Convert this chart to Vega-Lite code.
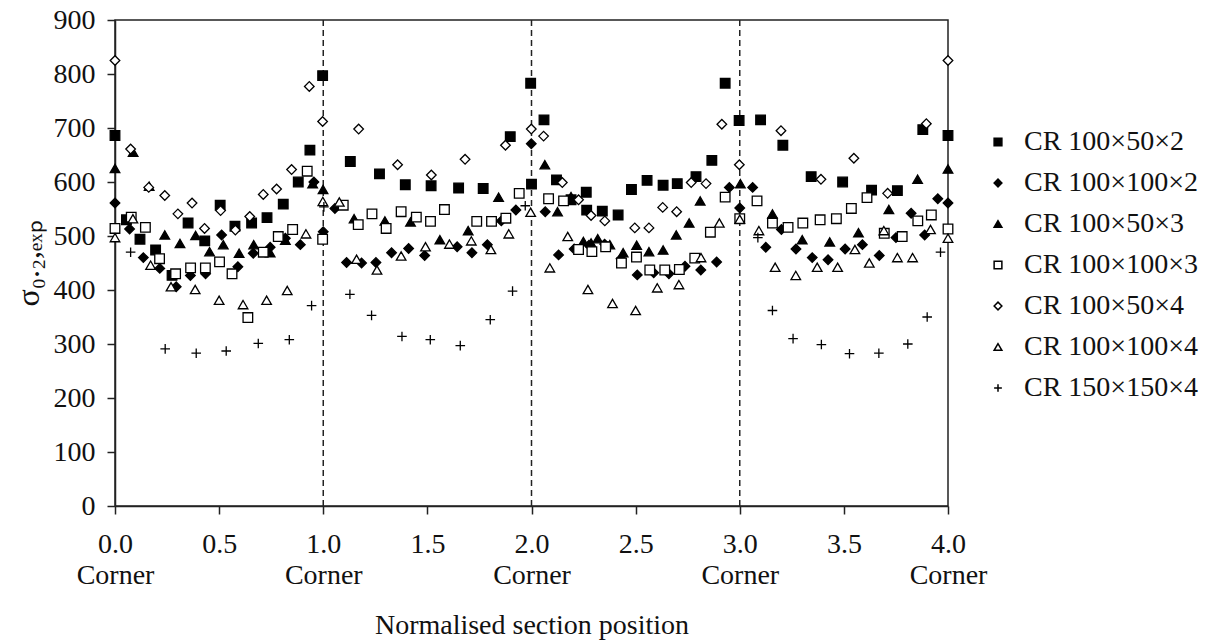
{
  "$schema": "https://vega.github.io/schema/vega-lite/v6.json",
  "width": 833,
  "height": 486,
  "autosize": {"type": "none"},
  "padding": {"left": 115, "top": 20, "right": 261, "bottom": 136},
  "background": "white",
  "config": {
    "font": "Liberation Serif",
    "view": {"stroke": "#222", "strokeWidth": 1.5},
    "axis": {
      "grid": false,
      "domainColor": "#222",
      "domainWidth": 1.5,
      "tickColor": "#222",
      "tickWidth": 1.5,
      "tickSize": 8,
      "labelFont": "Liberation Serif",
      "labelFontSize": 28,
      "labelColor": "#111",
      "titleFont": "Liberation Serif",
      "titleFontWeight": "normal",
      "titleColor": "#111"
    },
    "legend": {
      "labelFont": "Liberation Serif",
      "labelFontSize": 28,
      "labelColor": "#111"
    }
  },
  "datasets": {
    "corners": [{"pos": 1}, {"pos": 2}, {"pos": 3}],
    "measurements": [
      {"series": "CR 100×50×2", "pos": 0, "stress": 686},
      {"series": "CR 100×50×2", "pos": 0.055, "stress": 530},
      {"series": "CR 100×50×2", "pos": 0.12, "stress": 494},
      {"series": "CR 100×50×2", "pos": 0.195, "stress": 474},
      {"series": "CR 100×50×2", "pos": 0.274, "stress": 427},
      {"series": "CR 100×50×2", "pos": 0.351, "stress": 524},
      {"series": "CR 100×50×2", "pos": 0.431, "stress": 491},
      {"series": "CR 100×50×2", "pos": 0.505, "stress": 557},
      {"series": "CR 100×50×2", "pos": 0.576, "stress": 518},
      {"series": "CR 100×50×2", "pos": 0.656, "stress": 524},
      {"series": "CR 100×50×2", "pos": 0.73, "stress": 534},
      {"series": "CR 100×50×2", "pos": 0.808, "stress": 559},
      {"series": "CR 100×50×2", "pos": 0.88, "stress": 600},
      {"series": "CR 100×50×2", "pos": 0.936, "stress": 659},
      {"series": "CR 100×50×2", "pos": 0.997, "stress": 797},
      {"series": "CR 100×50×2", "pos": 1.13, "stress": 638},
      {"series": "CR 100×50×2", "pos": 1.27, "stress": 615},
      {"series": "CR 100×50×2", "pos": 1.394, "stress": 595},
      {"series": "CR 100×50×2", "pos": 1.518, "stress": 593},
      {"series": "CR 100×50×2", "pos": 1.65, "stress": 589},
      {"series": "CR 100×50×2", "pos": 1.768, "stress": 588},
      {"series": "CR 100×50×2", "pos": 1.898, "stress": 684},
      {"series": "CR 100×50×2", "pos": 1.996, "stress": 783},
      {"series": "CR 100×50×2", "pos": 2.0, "stress": 596},
      {"series": "CR 100×50×2", "pos": 2.06, "stress": 715},
      {"series": "CR 100×50×2", "pos": 2.12, "stress": 604},
      {"series": "CR 100×50×2", "pos": 2.19, "stress": 567},
      {"series": "CR 100×50×2", "pos": 2.263, "stress": 581},
      {"series": "CR 100×50×2", "pos": 2.265, "stress": 548},
      {"series": "CR 100×50×2", "pos": 2.34, "stress": 546},
      {"series": "CR 100×50×2", "pos": 2.416, "stress": 539},
      {"series": "CR 100×50×2", "pos": 2.48, "stress": 586},
      {"series": "CR 100×50×2", "pos": 2.555, "stress": 603},
      {"series": "CR 100×50×2", "pos": 2.632, "stress": 594},
      {"series": "CR 100×50×2", "pos": 2.7, "stress": 597},
      {"series": "CR 100×50×2", "pos": 2.79, "stress": 610},
      {"series": "CR 100×50×2", "pos": 2.866, "stress": 640},
      {"series": "CR 100×50×2", "pos": 2.93, "stress": 783},
      {"series": "CR 100×50×2", "pos": 2.997, "stress": 714},
      {"series": "CR 100×50×2", "pos": 3.1, "stress": 715},
      {"series": "CR 100×50×2", "pos": 3.207, "stress": 668},
      {"series": "CR 100×50×2", "pos": 3.343, "stress": 610},
      {"series": "CR 100×50×2", "pos": 3.494, "stress": 600},
      {"series": "CR 100×50×2", "pos": 3.633, "stress": 585},
      {"series": "CR 100×50×2", "pos": 3.757, "stress": 584},
      {"series": "CR 100×50×2", "pos": 3.879, "stress": 697},
      {"series": "CR 100×50×2", "pos": 4.0, "stress": 686},

      {"series": "CR 100×100×2", "pos": 0, "stress": 561},
      {"series": "CR 100×100×2", "pos": 0.07, "stress": 513},
      {"series": "CR 100×100×2", "pos": 0.136, "stress": 460},
      {"series": "CR 100×100×2", "pos": 0.215, "stress": 440},
      {"series": "CR 100×100×2", "pos": 0.294, "stress": 406},
      {"series": "CR 100×100×2", "pos": 0.362, "stress": 427},
      {"series": "CR 100×100×2", "pos": 0.435, "stress": 430},
      {"series": "CR 100×100×2", "pos": 0.512, "stress": 502},
      {"series": "CR 100×100×2", "pos": 0.59, "stress": 443},
      {"series": "CR 100×100×2", "pos": 0.664, "stress": 468},
      {"series": "CR 100×100×2", "pos": 0.745, "stress": 479},
      {"series": "CR 100×100×2", "pos": 0.818, "stress": 496},
      {"series": "CR 100×100×2", "pos": 0.89, "stress": 484},
      {"series": "CR 100×100×2", "pos": 0.955, "stress": 600},
      {"series": "CR 100×100×2", "pos": 1.0, "stress": 508},
      {"series": "CR 100×100×2", "pos": 1.056, "stress": 551},
      {"series": "CR 100×100×2", "pos": 1.112, "stress": 451},
      {"series": "CR 100×100×2", "pos": 1.184, "stress": 450},
      {"series": "CR 100×100×2", "pos": 1.253, "stress": 451},
      {"series": "CR 100×100×2", "pos": 1.328, "stress": 469},
      {"series": "CR 100×100×2", "pos": 1.41, "stress": 477},
      {"series": "CR 100×100×2", "pos": 1.487, "stress": 464},
      {"series": "CR 100×100×2", "pos": 1.643, "stress": 480},
      {"series": "CR 100×100×2", "pos": 1.714, "stress": 469},
      {"series": "CR 100×100×2", "pos": 1.788, "stress": 484},
      {"series": "CR 100×100×2", "pos": 1.855, "stress": 528},
      {"series": "CR 100×100×2", "pos": 1.925, "stress": 548},
      {"series": "CR 100×100×2", "pos": 1.999, "stress": 671},
      {"series": "CR 100×100×2", "pos": 2.066, "stress": 545},
      {"series": "CR 100×100×2", "pos": 2.13, "stress": 465},
      {"series": "CR 100×100×2", "pos": 2.205, "stress": 476},
      {"series": "CR 100×100×2", "pos": 2.276, "stress": 483},
      {"series": "CR 100×100×2", "pos": 2.351, "stress": 485},
      {"series": "CR 100×100×2", "pos": 2.43, "stress": 458},
      {"series": "CR 100×100×2", "pos": 2.508, "stress": 428},
      {"series": "CR 100×100×2", "pos": 2.587, "stress": 432},
      {"series": "CR 100×100×2", "pos": 2.66, "stress": 430},
      {"series": "CR 100×100×2", "pos": 2.737, "stress": 444},
      {"series": "CR 100×100×2", "pos": 2.813, "stress": 437},
      {"series": "CR 100×100×2", "pos": 2.889, "stress": 452},
      {"series": "CR 100×100×2", "pos": 2.95, "stress": 590},
      {"series": "CR 100×100×2", "pos": 3.0, "stress": 552},
      {"series": "CR 100×100×2", "pos": 3.062, "stress": 590},
      {"series": "CR 100×100×2", "pos": 3.125, "stress": 479},
      {"series": "CR 100×100×2", "pos": 3.2, "stress": 512},
      {"series": "CR 100×100×2", "pos": 3.27, "stress": 476},
      {"series": "CR 100×100×2", "pos": 3.348, "stress": 460},
      {"series": "CR 100×100×2", "pos": 3.424, "stress": 456},
      {"series": "CR 100×100×2", "pos": 3.506, "stress": 476},
      {"series": "CR 100×100×2", "pos": 3.589, "stress": 484},
      {"series": "CR 100×100×2", "pos": 3.67, "stress": 464},
      {"series": "CR 100×100×2", "pos": 3.75, "stress": 497},
      {"series": "CR 100×100×2", "pos": 3.823, "stress": 542},
      {"series": "CR 100×100×2", "pos": 3.888, "stress": 502},
      {"series": "CR 100×100×2", "pos": 3.951, "stress": 569},
      {"series": "CR 100×100×2", "pos": 4.0, "stress": 561},

      {"series": "CR 100×50×3", "pos": 0, "stress": 625},
      {"series": "CR 100×50×3", "pos": 0.087, "stress": 655},
      {"series": "CR 100×50×3", "pos": 0.164, "stress": 592},
      {"series": "CR 100×50×3", "pos": 0.239, "stress": 502},
      {"series": "CR 100×50×3", "pos": 0.312, "stress": 486},
      {"series": "CR 100×50×3", "pos": 0.387, "stress": 501},
      {"series": "CR 100×50×3", "pos": 0.454, "stress": 471},
      {"series": "CR 100×50×3", "pos": 0.52, "stress": 484},
      {"series": "CR 100×50×3", "pos": 0.596, "stress": 468},
      {"series": "CR 100×50×3", "pos": 0.666, "stress": 484},
      {"series": "CR 100×50×3", "pos": 0.745, "stress": 469},
      {"series": "CR 100×50×3", "pos": 0.818, "stress": 492},
      {"series": "CR 100×50×3", "pos": 0.949, "stress": 597},
      {"series": "CR 100×50×3", "pos": 0.999, "stress": 586},
      {"series": "CR 100×50×3", "pos": 1.148, "stress": 532},
      {"series": "CR 100×50×3", "pos": 1.296, "stress": 528},
      {"series": "CR 100×50×3", "pos": 1.419, "stress": 526},
      {"series": "CR 100×50×3", "pos": 1.56, "stress": 493},
      {"series": "CR 100×50×3", "pos": 1.696, "stress": 510},
      {"series": "CR 100×50×3", "pos": 1.842, "stress": 572},
      {"series": "CR 100×50×3", "pos": 2.064, "stress": 632},
      {"series": "CR 100×50×3", "pos": 2.125, "stress": 545},
      {"series": "CR 100×50×3", "pos": 2.19, "stress": 573},
      {"series": "CR 100×50×3", "pos": 2.249, "stress": 490},
      {"series": "CR 100×50×3", "pos": 2.286, "stress": 487},
      {"series": "CR 100×50×3", "pos": 2.318, "stress": 495},
      {"series": "CR 100×50×3", "pos": 2.376, "stress": 484},
      {"series": "CR 100×50×3", "pos": 2.44, "stress": 469},
      {"series": "CR 100×50×3", "pos": 2.505, "stress": 483},
      {"series": "CR 100×50×3", "pos": 2.564, "stress": 471},
      {"series": "CR 100×50×3", "pos": 2.632, "stress": 474},
      {"series": "CR 100×50×3", "pos": 2.695, "stress": 502},
      {"series": "CR 100×50×3", "pos": 2.757, "stress": 524},
      {"series": "CR 100×50×3", "pos": 2.81, "stress": 565},
      {"series": "CR 100×50×3", "pos": 3.003, "stress": 597},
      {"series": "CR 100×50×3", "pos": 3.157, "stress": 541},
      {"series": "CR 100×50×3", "pos": 3.3, "stress": 493},
      {"series": "CR 100×50×3", "pos": 3.432, "stress": 489},
      {"series": "CR 100×50×3", "pos": 3.57, "stress": 506},
      {"series": "CR 100×50×3", "pos": 3.716, "stress": 549},
      {"series": "CR 100×50×3", "pos": 3.854, "stress": 605},
      {"series": "CR 100×50×3", "pos": 4.0, "stress": 624},

      {"series": "CR 100×100×3", "pos": 0, "stress": 514},
      {"series": "CR 100×100×3", "pos": 0.078, "stress": 535},
      {"series": "CR 100×100×3", "pos": 0.146, "stress": 516},
      {"series": "CR 100×100×3", "pos": 0.214, "stress": 458},
      {"series": "CR 100×100×3", "pos": 0.291, "stress": 430},
      {"series": "CR 100×100×3", "pos": 0.363, "stress": 441},
      {"series": "CR 100×100×3", "pos": 0.434, "stress": 441},
      {"series": "CR 100×100×3", "pos": 0.502, "stress": 452},
      {"series": "CR 100×100×3", "pos": 0.562, "stress": 430},
      {"series": "CR 100×100×3", "pos": 0.638, "stress": 349},
      {"series": "CR 100×100×3", "pos": 0.712, "stress": 470},
      {"series": "CR 100×100×3", "pos": 0.784, "stress": 499},
      {"series": "CR 100×100×3", "pos": 0.853, "stress": 512},
      {"series": "CR 100×100×3", "pos": 0.923, "stress": 620},
      {"series": "CR 100×100×3", "pos": 0.997, "stress": 494},
      {"series": "CR 100×100×3", "pos": 1.096, "stress": 557},
      {"series": "CR 100×100×3", "pos": 1.168, "stress": 521},
      {"series": "CR 100×100×3", "pos": 1.234, "stress": 541},
      {"series": "CR 100×100×3", "pos": 1.302, "stress": 514},
      {"series": "CR 100×100×3", "pos": 1.374, "stress": 545},
      {"series": "CR 100×100×3", "pos": 1.447, "stress": 535},
      {"series": "CR 100×100×3", "pos": 1.515, "stress": 527},
      {"series": "CR 100×100×3", "pos": 1.582, "stress": 549},
      {"series": "CR 100×100×3", "pos": 1.737, "stress": 527},
      {"series": "CR 100×100×3", "pos": 1.808, "stress": 527},
      {"series": "CR 100×100×3", "pos": 1.877, "stress": 533},
      {"series": "CR 100×100×3", "pos": 1.941, "stress": 579},
      {"series": "CR 100×100×3", "pos": 2.082, "stress": 569},
      {"series": "CR 100×100×3", "pos": 2.154, "stress": 565},
      {"series": "CR 100×100×3", "pos": 2.226, "stress": 475},
      {"series": "CR 100×100×3", "pos": 2.29, "stress": 471},
      {"series": "CR 100×100×3", "pos": 2.356, "stress": 480},
      {"series": "CR 100×100×3", "pos": 2.432, "stress": 450},
      {"series": "CR 100×100×3", "pos": 2.504, "stress": 461},
      {"series": "CR 100×100×3", "pos": 2.568, "stress": 437},
      {"series": "CR 100×100×3", "pos": 2.64, "stress": 437},
      {"series": "CR 100×100×3", "pos": 2.71, "stress": 438},
      {"series": "CR 100×100×3", "pos": 2.784, "stress": 459},
      {"series": "CR 100×100×3", "pos": 2.859, "stress": 507},
      {"series": "CR 100×100×3", "pos": 2.93, "stress": 572},
      {"series": "CR 100×100×3", "pos": 3.0, "stress": 532},
      {"series": "CR 100×100×3", "pos": 3.083, "stress": 565},
      {"series": "CR 100×100×3", "pos": 3.157, "stress": 524},
      {"series": "CR 100×100×3", "pos": 3.232, "stress": 516},
      {"series": "CR 100×100×3", "pos": 3.303, "stress": 524},
      {"series": "CR 100×100×3", "pos": 3.386, "stress": 530},
      {"series": "CR 100×100×3", "pos": 3.464, "stress": 532},
      {"series": "CR 100×100×3", "pos": 3.536, "stress": 551},
      {"series": "CR 100×100×3", "pos": 3.611, "stress": 571},
      {"series": "CR 100×100×3", "pos": 3.694, "stress": 505},
      {"series": "CR 100×100×3", "pos": 3.78, "stress": 499},
      {"series": "CR 100×100×3", "pos": 3.855, "stress": 528},
      {"series": "CR 100×100×3", "pos": 3.92, "stress": 539},
      {"series": "CR 100×100×3", "pos": 4.0, "stress": 513},

      {"series": "CR 100×50×4", "pos": 0, "stress": 825},
      {"series": "CR 100×50×4", "pos": 0.075, "stress": 661},
      {"series": "CR 100×50×4", "pos": 0.162, "stress": 590},
      {"series": "CR 100×50×4", "pos": 0.239, "stress": 575},
      {"series": "CR 100×50×4", "pos": 0.302, "stress": 541},
      {"series": "CR 100×50×4", "pos": 0.37, "stress": 561},
      {"series": "CR 100×50×4", "pos": 0.43, "stress": 514},
      {"series": "CR 100×50×4", "pos": 0.507, "stress": 547},
      {"series": "CR 100×50×4", "pos": 0.578, "stress": 511},
      {"series": "CR 100×50×4", "pos": 0.647, "stress": 536},
      {"series": "CR 100×50×4", "pos": 0.712, "stress": 577},
      {"series": "CR 100×50×4", "pos": 0.776, "stress": 587},
      {"series": "CR 100×50×4", "pos": 0.848, "stress": 623},
      {"series": "CR 100×50×4", "pos": 0.933, "stress": 777},
      {"series": "CR 100×50×4", "pos": 0.997, "stress": 712},
      {"series": "CR 100×50×4", "pos": 1.17, "stress": 698},
      {"series": "CR 100×50×4", "pos": 1.357, "stress": 632},
      {"series": "CR 100×50×4", "pos": 1.519, "stress": 613},
      {"series": "CR 100×50×4", "pos": 1.681, "stress": 642},
      {"series": "CR 100×50×4", "pos": 1.875, "stress": 668},
      {"series": "CR 100×50×4", "pos": 1.999, "stress": 698},
      {"series": "CR 100×50×4", "pos": 2.058, "stress": 685},
      {"series": "CR 100×50×4", "pos": 2.148, "stress": 599},
      {"series": "CR 100×50×4", "pos": 2.226, "stress": 567},
      {"series": "CR 100×50×4", "pos": 2.286, "stress": 538},
      {"series": "CR 100×50×4", "pos": 2.352, "stress": 528},
      {"series": "CR 100×50×4", "pos": 2.496, "stress": 515},
      {"series": "CR 100×50×4", "pos": 2.564, "stress": 515},
      {"series": "CR 100×50×4", "pos": 2.63, "stress": 553},
      {"series": "CR 100×50×4", "pos": 2.697, "stress": 545},
      {"series": "CR 100×50×4", "pos": 2.767, "stress": 599},
      {"series": "CR 100×50×4", "pos": 2.838, "stress": 597},
      {"series": "CR 100×50×4", "pos": 2.914, "stress": 707},
      {"series": "CR 100×50×4", "pos": 2.998, "stress": 632},
      {"series": "CR 100×50×4", "pos": 3.198, "stress": 695},
      {"series": "CR 100×50×4", "pos": 3.39, "stress": 605},
      {"series": "CR 100×50×4", "pos": 3.548, "stress": 644},
      {"series": "CR 100×50×4", "pos": 3.71, "stress": 579},
      {"series": "CR 100×50×4", "pos": 3.896, "stress": 708},
      {"series": "CR 100×50×4", "pos": 4.0, "stress": 825},

      {"series": "CR 100×100×4", "pos": 0, "stress": 497},
      {"series": "CR 100×100×4", "pos": 0.086, "stress": 532},
      {"series": "CR 100×100×4", "pos": 0.171, "stress": 446},
      {"series": "CR 100×100×4", "pos": 0.269, "stress": 406},
      {"series": "CR 100×100×4", "pos": 0.385, "stress": 401},
      {"series": "CR 100×100×4", "pos": 0.5, "stress": 381},
      {"series": "CR 100×100×4", "pos": 0.615, "stress": 373},
      {"series": "CR 100×100×4", "pos": 0.728, "stress": 381},
      {"series": "CR 100×100×4", "pos": 0.827, "stress": 399},
      {"series": "CR 100×100×4", "pos": 0.917, "stress": 504},
      {"series": "CR 100×100×4", "pos": 0.998, "stress": 564},
      {"series": "CR 100×100×4", "pos": 1.077, "stress": 563},
      {"series": "CR 100×100×4", "pos": 1.16, "stress": 457},
      {"series": "CR 100×100×4", "pos": 1.258, "stress": 437},
      {"series": "CR 100×100×4", "pos": 1.374, "stress": 463},
      {"series": "CR 100×100×4", "pos": 1.491, "stress": 480},
      {"series": "CR 100×100×4", "pos": 1.606, "stress": 485},
      {"series": "CR 100×100×4", "pos": 1.711, "stress": 491},
      {"series": "CR 100×100×4", "pos": 1.805, "stress": 475},
      {"series": "CR 100×100×4", "pos": 1.891, "stress": 504},
      {"series": "CR 100×100×4", "pos": 1.996, "stress": 544},
      {"series": "CR 100×100×4", "pos": 2.088, "stress": 441},
      {"series": "CR 100×100×4", "pos": 2.174, "stress": 499},
      {"series": "CR 100×100×4", "pos": 2.271, "stress": 401},
      {"series": "CR 100×100×4", "pos": 2.389, "stress": 375},
      {"series": "CR 100×100×4", "pos": 2.5, "stress": 362},
      {"series": "CR 100×100×4", "pos": 2.604, "stress": 404},
      {"series": "CR 100×100×4", "pos": 2.708, "stress": 410},
      {"series": "CR 100×100×4", "pos": 2.814, "stress": 460},
      {"series": "CR 100×100×4", "pos": 2.902, "stress": 524},
      {"series": "CR 100×100×4", "pos": 3.0, "stress": 531},
      {"series": "CR 100×100×4", "pos": 3.092, "stress": 510},
      {"series": "CR 100×100×4", "pos": 3.17, "stress": 442},
      {"series": "CR 100×100×4", "pos": 3.269, "stress": 427},
      {"series": "CR 100×100×4", "pos": 3.372, "stress": 442},
      {"series": "CR 100×100×4", "pos": 3.47, "stress": 442},
      {"series": "CR 100×100×4", "pos": 3.553, "stress": 475},
      {"series": "CR 100×100×4", "pos": 3.622, "stress": 450},
      {"series": "CR 100×100×4", "pos": 3.692, "stress": 510},
      {"series": "CR 100×100×4", "pos": 3.757, "stress": 460},
      {"series": "CR 100×100×4", "pos": 3.83, "stress": 460},
      {"series": "CR 100×100×4", "pos": 3.916, "stress": 512},
      {"series": "CR 100×100×4", "pos": 4.0, "stress": 496},

      {"series": "CR 150×150×4", "pos": 0.075, "stress": 470},
      {"series": "CR 150×150×4", "pos": 0.241, "stress": 291},
      {"series": "CR 150×150×4", "pos": 0.39, "stress": 283},
      {"series": "CR 150×150×4", "pos": 0.534, "stress": 287},
      {"series": "CR 150×150×4", "pos": 0.688, "stress": 301},
      {"series": "CR 150×150×4", "pos": 0.837, "stress": 308},
      {"series": "CR 150×150×4", "pos": 0.944, "stress": 371},
      {"series": "CR 150×150×4", "pos": 1.003, "stress": 554},
      {"series": "CR 150×150×4", "pos": 1.128, "stress": 392},
      {"series": "CR 150×150×4", "pos": 1.232, "stress": 353},
      {"series": "CR 150×150×4", "pos": 1.378, "stress": 314},
      {"series": "CR 150×150×4", "pos": 1.514, "stress": 308},
      {"series": "CR 150×150×4", "pos": 1.658, "stress": 297},
      {"series": "CR 150×150×4", "pos": 1.802, "stress": 345},
      {"series": "CR 150×150×4", "pos": 1.909, "stress": 398},
      {"series": "CR 150×150×4", "pos": 1.97, "stress": 556},
      {"series": "CR 150×150×4", "pos": 3.087, "stress": 497},
      {"series": "CR 150×150×4", "pos": 3.157, "stress": 362},
      {"series": "CR 150×150×4", "pos": 3.256, "stress": 310},
      {"series": "CR 150×150×4", "pos": 3.392, "stress": 299},
      {"series": "CR 150×150×4", "pos": 3.527, "stress": 282},
      {"series": "CR 150×150×4", "pos": 3.668, "stress": 283},
      {"series": "CR 150×150×4", "pos": 3.807, "stress": 300},
      {"series": "CR 150×150×4", "pos": 3.9, "stress": 350},
      {"series": "CR 150×150×4", "pos": 3.964, "stress": 470}
    ]
  },
  "encoding": {
    "x": {
      "field": "pos",
      "type": "quantitative",
      "scale": {"domain": [0, 4], "nice": false, "zero": false},
      "axis": {
        "title": "Normalised section position",
        "titleFontSize": 28,
        "titlePadding": 22,
        "values": [0, 0.5, 1, 1.5, 2, 2.5, 3, 3.5, 4],
        "labelExpr": "datum.value % 1 === 0 ? [format(datum.value, '.1f'), 'Corner'] : format(datum.value, '.1f')",
        "labelBaseline": "top",
        "labelPadding": 16,
        "labelLineHeight": 31,
        "labelFlush": false,
        "labelOverlap": false
      }
    }
  },
  "layer": [
    {
      "data": {"name": "corners"},
      "mark": {"type": "rule", "strokeDash": [6, 4], "color": "#222", "strokeWidth": 1.5}
    },
    {
      "data": {"name": "measurements"},
      "mark": {"type": "point", "filled": true, "stroke": "black", "strokeWidth": 1.3, "opacity": 1},
      "encoding": {
        "y": {
          "field": "stress",
          "type": "quantitative",
          "scale": {"domain": [0, 900], "nice": false},
          "axis": {
            "title": "σ₀.₂,ₑₓₚ",
            "titleFontSize": 32,
            "titlePadding": 8,
            "values": [0, 100, 200, 300, 400, 500, 600, 700, 800, 900],
            "labelPadding": 12
          }
        },
        "shape": {
          "field": "series",
          "type": "nominal",
          "scale": {
            "domain": ["CR 100×50×2", "CR 100×100×2", "CR 100×50×3", "CR 100×100×3", "CR 100×50×4", "CR 100×100×4", "CR 150×150×4"],
            "range": ["square", "diamond", "triangle-up", "square", "diamond", "triangle-up", "M-1,0H1M0,-1V1"]
          },
          "legend": {
            "title": null,
            "orient": "none",
            "legendX": 869,
            "legendY": 108,
            "padding": 0,
            "rowPadding": 13,
            "symbolSize": 60,
            "labelOffset": 12,
            "labelLimit": 300,
            "encode": {
              "symbols": {
                "update": {
                  "stroke": {"value": "black"},
                  "strokeWidth": {"value": 1.3}
                }
              }
            }
          }
        },
        "fill": {
          "field": "series",
          "type": "nominal",
          "scale": {
            "domain": ["CR 100×50×2", "CR 100×100×2", "CR 100×50×3", "CR 100×100×3", "CR 100×50×4", "CR 100×100×4", "CR 150×150×4"],
            "range": ["black", "black", "black", "white", "white", "white", "white"]
          },
          "legend": {
            "title": null,
            "orient": "none",
            "legendX": 869,
            "legendY": 108,
            "padding": 0,
            "rowPadding": 13,
            "symbolSize": 60,
            "labelOffset": 12,
            "labelLimit": 300,
            "encode": {
              "symbols": {
                "update": {
                  "stroke": {"value": "black"},
                  "strokeWidth": {"value": 1.3}
                }
              }
            }
          }
        },
        "size": {"value": 92}
      }
    }
  ]
}
